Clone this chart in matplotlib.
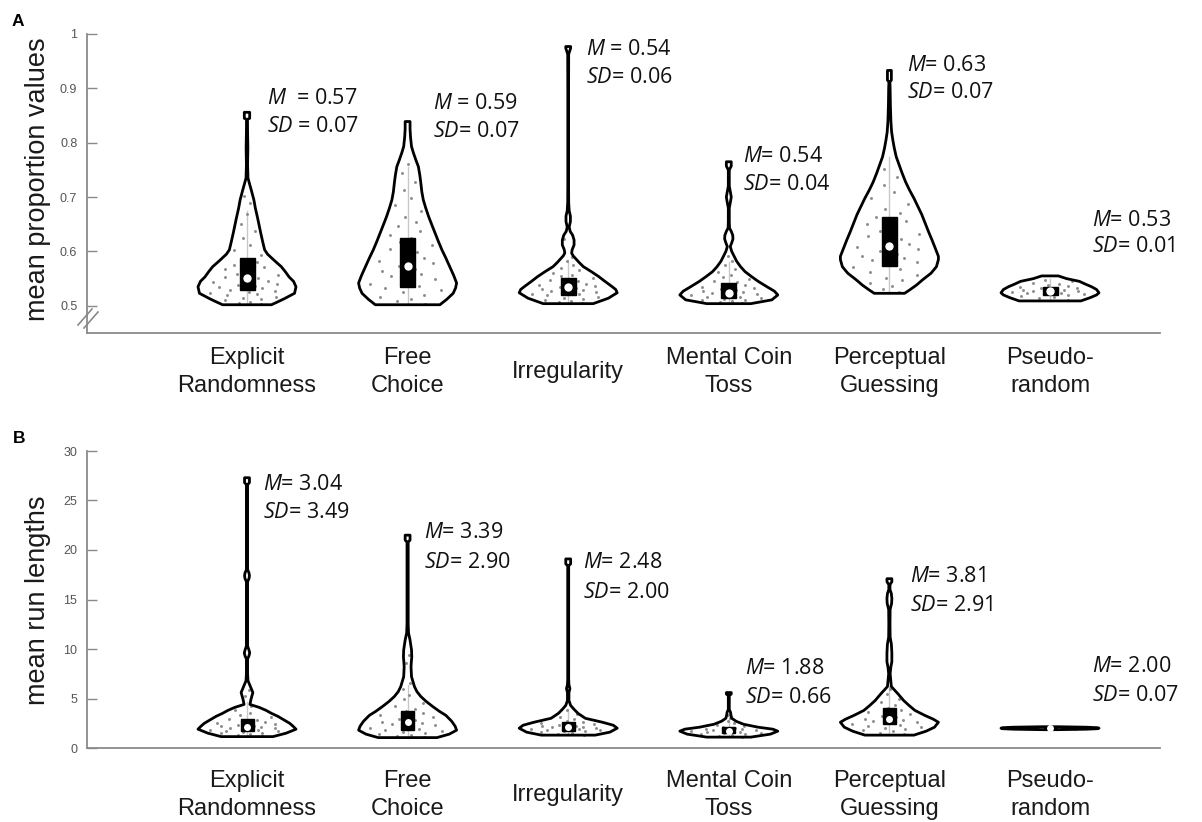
import numpy as np
import matplotlib
matplotlib.use("Agg")
import matplotlib.pyplot as plt
from matplotlib.transforms import blended_transform_factory
from matplotlib.lines import Line2D

plt.rcParams['mathtext.fontset'] = 'custom'
plt.rcParams['mathtext.it'] = 'Open Sans:italic'
plt.rcParams['mathtext.rm'] = 'Open Sans'

# ---------------- data ----------------
categories = ["Explicit\nRandomness", "Free\nChoice", "Irregularity",
              "Mental Coin\nToss", "Perceptual\nGuessing", "Pseudo-\nrandom"]

A_M = [0.57, 0.59, 0.54, 0.54, 0.63, 0.53]
A_SD = [0.07, 0.07, 0.06, 0.04, 0.07, 0.01]
B_M = [3.04, 3.39, 2.48, 1.88, 3.81, 2.00]
B_SD = [3.49, 2.90, 2.00, 0.66, 2.91, 0.07]

A_yticks = [0.5, 0.6, 0.7, 0.8, 0.9, 1.0]
A_yticklabels = ["0.5", "0.6", "0.7", "0.8", "0.9", "1"]
B_yticks = [0, 5, 10, 15, 20, 25, 30]
B_yticklabels = ["0", "5", "10", "15", "20", "25", "30"]

# violin outlines: (value, relative half-width)
A_prof_y = [
    [0.502, 0.507, 0.513, 0.523, 0.535, 0.545, 0.553, 0.563, 0.572, 0.584, 0.595, 0.603, 0.618, 0.634, 0.66, 0.68, 0.695, 0.712, 0.725, 0.735, 0.76, 0.79, 0.82, 0.843, 0.845, 0.856],
    [0.502, 0.512, 0.523, 0.533, 0.542, 0.556, 0.572, 0.588, 0.603, 0.618, 0.634, 0.65, 0.664, 0.68, 0.695, 0.71, 0.726, 0.74, 0.756, 0.768, 0.781, 0.793, 0.81, 0.825, 0.834, 0.839],
    [0.504, 0.514, 0.524, 0.53, 0.535, 0.545, 0.554, 0.563, 0.572, 0.58, 0.585, 0.592, 0.597, 0.603, 0.612, 0.621, 0.63, 0.637, 0.645, 0.655, 0.665, 0.675, 0.69, 0.72, 0.8, 0.9, 0.963, 0.974, 0.977],
    [0.504, 0.511, 0.52, 0.527, 0.535, 0.545, 0.554, 0.563, 0.572, 0.582, 0.591, 0.6, 0.609, 0.616, 0.623, 0.63, 0.637, 0.643, 0.655, 0.68, 0.692, 0.70, 0.708, 0.72, 0.75, 0.757, 0.765],
    [0.523, 0.529, 0.538, 0.548, 0.56, 0.572, 0.585, 0.591, 0.605, 0.621, 0.636, 0.652, 0.668, 0.683, 0.698, 0.713, 0.728, 0.744, 0.759, 0.774, 0.79, 0.805, 0.82, 0.84, 0.87, 0.9, 0.912, 0.915, 0.933],
    [0.509, 0.515, 0.52, 0.524, 0.53, 0.535, 0.54, 0.545, 0.55, 0.555],
]
A_prof_w = [
    [0.50, 0.62, 0.76, 0.97, 1.0, 0.95, 0.86, 0.78, 0.70, 0.55, 0.42, 0.36, 0.32, 0.28, 0.22, 0.17, 0.14, 0.09, 0.05, 0.02, 0.012, 0.018, 0.012, 0.01, 0.055, 0.055],
    [0.66, 0.8, 0.93, 0.98, 1.0, 0.94, 0.86, 0.78, 0.70, 0.63, 0.56, 0.49, 0.43, 0.37, 0.32, 0.29, 0.27, 0.25, 0.22, 0.17, 0.12, 0.08, 0.06, 0.05, 0.05, 0.05],
    [0.51, 0.82, 1.0, 0.97, 0.9, 0.75, 0.62, 0.47, 0.31, 0.22, 0.17, 0.1, 0.07, 0.08, 0.12, 0.12, 0.09, 0.04, 0.02, 0.045, 0.045, 0.02, 0.01, 0.008, 0.008, 0.008, 0.01, 0.05, 0.05],
    [0.45, 0.88, 1.0, 0.93, 0.78, 0.6, 0.46, 0.33, 0.24, 0.16, 0.11, 0.06, 0.03, 0.06, 0.085, 0.08, 0.05, 0.015, 0.01, 0.01, 0.035, 0.05, 0.035, 0.01, 0.01, 0.05, 0.05],
    [0.31, 0.41, 0.55, 0.68, 0.85, 0.96, 1.0, 1.0, 0.94, 0.87, 0.8, 0.73, 0.66, 0.58, 0.5, 0.41, 0.33, 0.26, 0.2, 0.14, 0.1, 0.07, 0.045, 0.03, 0.02, 0.015, 0.01, 0.04, 0.04],
    [0.63, 0.82, 0.95, 1.0, 0.95, 0.85, 0.72, 0.6, 0.34, 0.17],
]
B_prof_y = [
    [1.15, 1.5, 1.9, 2.2, 2.5, 2.85, 3.2, 3.5, 3.8, 4.1, 4.4, 4.9, 5.6, 6.2, 6.8, 7.5, 9.0, 9.3, 9.6, 9.9, 10.3, 16.8, 17.1, 17.4, 17.7, 18.0, 26.6, 26.8, 27.3],
    [1.05, 1.4, 1.8, 2.2, 2.7, 3.3, 3.7, 4.2, 4.7, 5.2, 5.7, 6.2, 7.2, 8.2, 8.6, 9.2, 9.9, 10.9, 11.6, 12.5, 20.8, 21.0, 21.5],
    [1.3, 1.6, 2.0, 2.3, 2.6, 3.0, 3.5, 3.9, 4.3, 4.8, 5.6, 6.0, 6.4, 7.0, 18.4, 18.6, 19.1],
    [1.1, 1.4, 1.7, 1.9, 2.1, 2.4, 2.7, 3.0, 3.3, 3.6, 3.9, 5.3, 5.45, 5.6],
    [1.3, 1.7, 2.1, 2.6, 2.9, 3.3, 3.8, 4.3, 4.8, 5.5, 6.2, 7.5, 8.2, 8.7, 9.6, 10.5, 11.2, 12.5, 14.0, 14.6, 15.1, 15.6, 16.0, 16.5, 16.8, 17.1],
    [1.85, 1.9, 1.95, 2.0, 2.05, 2.1, 2.15],
]
B_prof_w = [
    [0.53, 0.8, 1.0, 0.94, 0.87, 0.75, 0.63, 0.5, 0.39, 0.25, 0.06, 0.08, 0.12, 0.07, 0.02, 0.012, 0.012, 0.04, 0.055, 0.04, 0.012, 0.012, 0.04, 0.05, 0.04, 0.012, 0.012, 0.05, 0.05],
    [0.6, 0.85, 1.0, 0.97, 0.9, 0.78, 0.65, 0.51, 0.38, 0.27, 0.19, 0.14, 0.08, 0.07, 0.075, 0.085, 0.08, 0.05, 0.02, 0.012, 0.012, 0.05, 0.05],
    [0.55, 0.85, 1.0, 0.92, 0.7, 0.35, 0.2, 0.12, 0.05, 0.015, 0.015, 0.035, 0.015, 0.01, 0.01, 0.05, 0.05],
    [0.45, 0.85, 1.0, 0.9, 0.6, 0.3, 0.15, 0.06, 0.045, 0.035, 0.01, 0.01, 0.05, 0.05],
    [0.5, 0.75, 0.92, 1.0, 0.9, 0.72, 0.52, 0.4, 0.29, 0.17, 0.04, 0.015, 0.03, 0.05, 0.05, 0.04, 0.015, 0.012, 0.015, 0.045, 0.05, 0.04, 0.012, 0.012, 0.05, 0.05],
    [0.15, 0.75, 0.97, 1.0, 0.97, 0.75, 0.15],
]

# box statistics: q1, median, q3, whisker low, whisker high
A_q1 = [0.529, 0.535, 0.520, 0.515, 0.574, 0.520]
A_med = [0.551, 0.574, 0.535, 0.524, 0.610, 0.528]
A_q3 = [0.588, 0.625, 0.551, 0.542, 0.664, 0.535]
A_wlo = [0.502, 0.502, 0.504, 0.504, 0.523, 0.509]
A_whi = [0.675, 0.755, 0.585, 0.580, 0.774, 0.550]
B_q1 = [1.7, 1.8, 1.7, 1.5, 2.4, 1.95]
B_med = [2.15, 2.6, 2.15, 1.75, 2.9, 2.0]
B_q3 = [2.9, 3.7, 2.6, 2.1, 4.0, 2.05]
B_wlo = [1.15, 1.05, 1.3, 1.1, 1.3, 1.85]
B_whi = [4.6, 6.4, 3.9, 3.0, 6.3, 2.15]

# individual observations (values)
A_dots = [
    [0.503, 0.505, 0.507, 0.51, 0.512, 0.514, 0.517, 0.519, 0.521, 0.523, 0.526, 0.528, 0.53, 0.532, 0.534, 0.536, 0.538, 0.541, 0.543, 0.545, 0.548, 0.551, 0.553, 0.556, 0.559, 0.563, 0.567, 0.572, 0.576, 0.581, 0.587, 0.594, 0.603, 0.612, 0.624, 0.637, 0.651, 0.668, 0.689, 0.702],
    [0.504, 0.508, 0.512, 0.516, 0.52, 0.525, 0.529, 0.533, 0.537, 0.541, 0.545, 0.55, 0.554, 0.559, 0.564, 0.568, 0.573, 0.578, 0.583, 0.588, 0.594, 0.599, 0.605, 0.611, 0.617, 0.624, 0.631, 0.638, 0.646, 0.655, 0.664, 0.674, 0.686, 0.699, 0.713, 0.728, 0.745, 0.76],
    [0.505, 0.507, 0.509, 0.511, 0.513, 0.515, 0.517, 0.519, 0.521, 0.522, 0.524, 0.526, 0.527, 0.529, 0.531, 0.533, 0.535, 0.537, 0.539, 0.541, 0.543, 0.545, 0.548, 0.551, 0.554, 0.557, 0.561, 0.565, 0.569, 0.575, 0.582, 0.59, 0.622],
    [0.505, 0.507, 0.508, 0.51, 0.511, 0.513, 0.514, 0.516, 0.517, 0.519, 0.52, 0.522, 0.523, 0.525, 0.527, 0.529, 0.531, 0.533, 0.535, 0.538, 0.54, 0.543, 0.546, 0.549, 0.553, 0.557, 0.562, 0.568, 0.575, 0.582, 0.592],
    [0.526, 0.531, 0.537, 0.542, 0.547, 0.552, 0.557, 0.562, 0.567, 0.571, 0.576, 0.58, 0.584, 0.588, 0.592, 0.596, 0.6, 0.605, 0.609, 0.614, 0.618, 0.623, 0.628, 0.633, 0.638, 0.644, 0.65, 0.656, 0.663, 0.671, 0.679, 0.688, 0.698, 0.709, 0.722, 0.737, 0.752],
    [0.511, 0.514, 0.516, 0.518, 0.52, 0.521, 0.522, 0.523, 0.524, 0.525, 0.526, 0.527, 0.528, 0.529, 0.53, 0.531, 0.532, 0.533, 0.534, 0.536, 0.538, 0.54, 0.542, 0.545, 0.548],
]
B_dots = [
    [1.2, 1.3, 1.4, 1.5, 1.55, 1.6, 1.7, 1.75, 1.8, 1.85, 1.9, 2.0, 2.05, 2.1, 2.2, 2.25, 2.3, 2.4, 2.5, 2.6, 2.7, 2.8, 2.95, 3.1, 3.3, 3.5, 3.8, 4.2, 5.3, 5.9],
    [1.1, 1.2, 1.35, 1.45, 1.55, 1.65, 1.75, 1.85, 1.95, 2.05, 2.15, 2.3, 2.4, 2.5, 2.65, 2.8, 2.95, 3.1, 3.3, 3.5, 3.7, 3.95, 4.2, 4.5, 4.9, 5.4, 6.0, 6.6, 8.6, 9.4],
    [1.35, 1.45, 1.55, 1.6, 1.7, 1.75, 1.8, 1.85, 1.9, 1.95, 2.0, 2.05, 2.1, 2.15, 2.2, 2.25, 2.3, 2.4, 2.5, 2.6, 2.75, 2.9, 3.1, 3.4, 3.8],
    [1.15, 1.25, 1.35, 1.4, 1.45, 1.5, 1.55, 1.6, 1.65, 1.7, 1.75, 1.8, 1.85, 1.9, 1.95, 2.0, 2.1, 2.2, 2.35, 2.5, 2.7, 3.0, 3.3],
    [1.4, 1.55, 1.7, 1.85, 1.95, 2.05, 2.15, 2.25, 2.35, 2.45, 2.55, 2.65, 2.75, 2.85, 2.95, 3.1, 3.25, 3.4, 3.6, 3.8, 4.0, 4.3, 4.6, 5.0, 5.5, 6.0],
    [1.95, 1.97, 2.0, 2.02, 2.05],
]
# horizontal jitter fractions for the dots
jitter = [0.62, -0.35, 0.11, -0.78, 0.45, -0.12, 0.83, -0.55, 0.27, -0.91, 0.05, 0.68, -0.41, 0.36,
          -0.67, 0.19, -0.23, 0.74, -0.84, 0.52, -0.05, 0.31, -0.61, 0.88, -0.29, 0.14, -0.72, 0.57,
          -0.47, 0.41, -0.17, 0.79, -0.88, 0.23, -0.33, 0.66, -0.58, 0.02, 0.49, -0.7]

# ---------------- layout ----------------
FW, FH = 1202, 822
fig = plt.figure(figsize=(FW / 100, FH / 100), dpi=100)
PXU = 160.6            # pixels per category unit
LEFT, RIGHT = 87, 1160
CAT1 = 247
xlim = (1 - (CAT1 - LEFT) / PXU, 1 + (RIGHT - CAT1) / PXU)
WMAX = 49 / PXU

axA = fig.add_axes([LEFT / FW, 1 - 333 / FH, (RIGHT - LEFT) / FW, (333 - 34) / FH])
axB = fig.add_axes([LEFT / FW, 1 - 748 / FH, (RIGHT - LEFT) / FW, (748 - 451) / FH])

AX_GRAY = '#8a8a8a'


def style_axis(ax, ylim, ticks, labels):
    ax.set_xlim(*xlim)
    ax.set_ylim(*ylim)
    for s in ['top', 'right']:
        ax.spines[s].set_visible(False)
    for s in ['left', 'bottom']:
        ax.spines[s].set_color(AX_GRAY)
        ax.spines[s].set_linewidth(1.3)
    ax.set_xticks([])
    ax.set_yticks(ticks)
    ax.set_yticklabels(labels, family='Liberation Sans', fontsize=9, color='#555555')
    ax.tick_params(axis='y', direction='in', length=7, width=1.0, color=AX_GRAY, pad=7)
    ax.patch.set_alpha(0)


def draw_violins(ax, py, pw, q1, med, q3, wlo, whi, dots, boxhw, medsize):
    for i in range(len(py)):
        c = i + 1
        y = np.array(py[i])
        w = np.array(pw[i]) * WMAX
        xs = np.concatenate([c - w, (c + w)[::-1]])
        ys = np.concatenate([y, y[::-1]])
        ax.fill(xs, ys, facecolor='white', edgecolor='none', zorder=1)
        ax.plot([c, c], [wlo[i], whi[i]], color='#c8c8c8', lw=1.0, zorder=2)
        dy = np.array(dots[i])
        fw = np.interp(dy, y, w)
        jx = np.array([jitter[k % len(jitter)] for k in range(len(dy))])
        ax.scatter(c + jx * 0.85 * fw, dy, s=4.5, color='#8c8c8c', linewidths=0, zorder=3)
        ax.fill([c - boxhw, c + boxhw, c + boxhw, c - boxhw],
                [q1[i], q1[i], q3[i], q3[i]], color='black', zorder=4)
        ax.fill(xs, ys, facecolor='none', edgecolor='black', lw=2.0,
                joinstyle='round', zorder=6)
        ax.plot([c], [med[i]], marker='o', markersize=medsize, color='white',
                markeredgewidth=0, zorder=7)


style_axis(axA, (0.45, 1.0), A_yticks, A_yticklabels)
style_axis(axB, (0, 30), B_yticks, B_yticklabels)

draw_violins(axA, A_prof_y, A_prof_w, A_q1, A_med, A_q3, A_wlo, A_whi, A_dots, 7.5 / PXU, 6.0)
draw_violins(axB, B_prof_y, B_prof_w, B_q1, B_med, B_q3, B_wlo, B_whi, B_dots, 6.5 / PXU, 5.0)

# category labels
for ax, yoff in [(axA, -39 / 299), (axB, -47 / 297)]:
    tr = blended_transform_factory(ax.transData, ax.transAxes)
    for i, lab in enumerate(categories):
        ax.text(i + 1, yoff, lab, transform=tr, ha='center', va='center',
                fontsize=17, family='Liberation Sans', linespacing=1.38, color='#1a1a1a')

# axis labels and panel letters
fig.text(38 / FW, 1 - 179 / FH, "mean proportion values", rotation=90, ha='center', va='center',
         fontsize=19.5, family='Liberation Sans', color='#1a1a1a')
fig.text(38 / FW, 1 - 600 / FH, "mean run lengths", rotation=90, ha='center', va='center',
         fontsize=19.5, family='Liberation Sans', color='#1a1a1a')
fig.text(18 / FW, 1 - 21 / FH, "A", ha='center', va='center', fontsize=12.5,
         fontweight='bold', family='Liberation Sans')
fig.text(19 / FW, 1 - 438 / FH, "B", ha='center', va='center', fontsize=12.5,
         fontweight='bold', family='Liberation Sans')

# axis break marks on panel A
for (x0, y0, x1, y1) in [(78, 325, 92, 309), (84, 328, 98, 312)]:
    fig.add_artist(Line2D([x0 / FW, x1 / FW], [1 - y0 / FH, 1 - y1 / FH],
                          transform=fig.transFigure, color=AX_GRAY, lw=1.2))

# M / SD annotations
A_mfmt = ["$M$  = {:.2f}", "$M$ = {:.2f}", "$M$ = {:.2f}", "$M$= {:.2f}", "$M$= {:.2f}", "$M$= {:.2f}"]
A_sfmt = ["$SD$ = {:.2f}", "$SD$= {:.2f}", "$SD$= {:.2f}", "$SD$= {:.2f}", "$SD$= {:.2f}", "$SD$= {:.2f}"]
A_pos = [(267, 97, 125), (433, 102, 130), (586, 48, 76), (743, 155, 183), (907, 64, 91), (1092, 219, 245)]
B_pos = [(263, 483, 511), (424, 531, 561), (583, 561, 591), (745, 667, 696), (910, 575, 604), (1092, 665, 694)]

ANN_FS = 15.5
for i in range(6):
    x, y1, y2 = A_pos[i]
    fig.text(x / FW, 1 - (y1 + 7) / FH, A_mfmt[i].format(A_M[i]), ha='left', va='baseline',
             fontsize=ANN_FS, family='Open Sans', color='#111111')
    fig.text(x / FW, 1 - (y2 + 7) / FH, A_sfmt[i].format(A_SD[i]), ha='left', va='baseline',
             fontsize=ANN_FS, family='Open Sans', color='#111111')
    x, y1, y2 = B_pos[i]
    fig.text(x / FW, 1 - (y1 + 7) / FH, "$M$= {:.2f}".format(B_M[i]), ha='left', va='baseline',
             fontsize=ANN_FS, family='Open Sans', color='#111111')
    fig.text(x / FW, 1 - (y2 + 7) / FH, "$SD$= {:.2f}".format(B_SD[i]), ha='left', va='baseline',
             fontsize=ANN_FS, family='Open Sans', color='#111111')

fig.savefig("out.png", dpi=100, facecolor='white')
